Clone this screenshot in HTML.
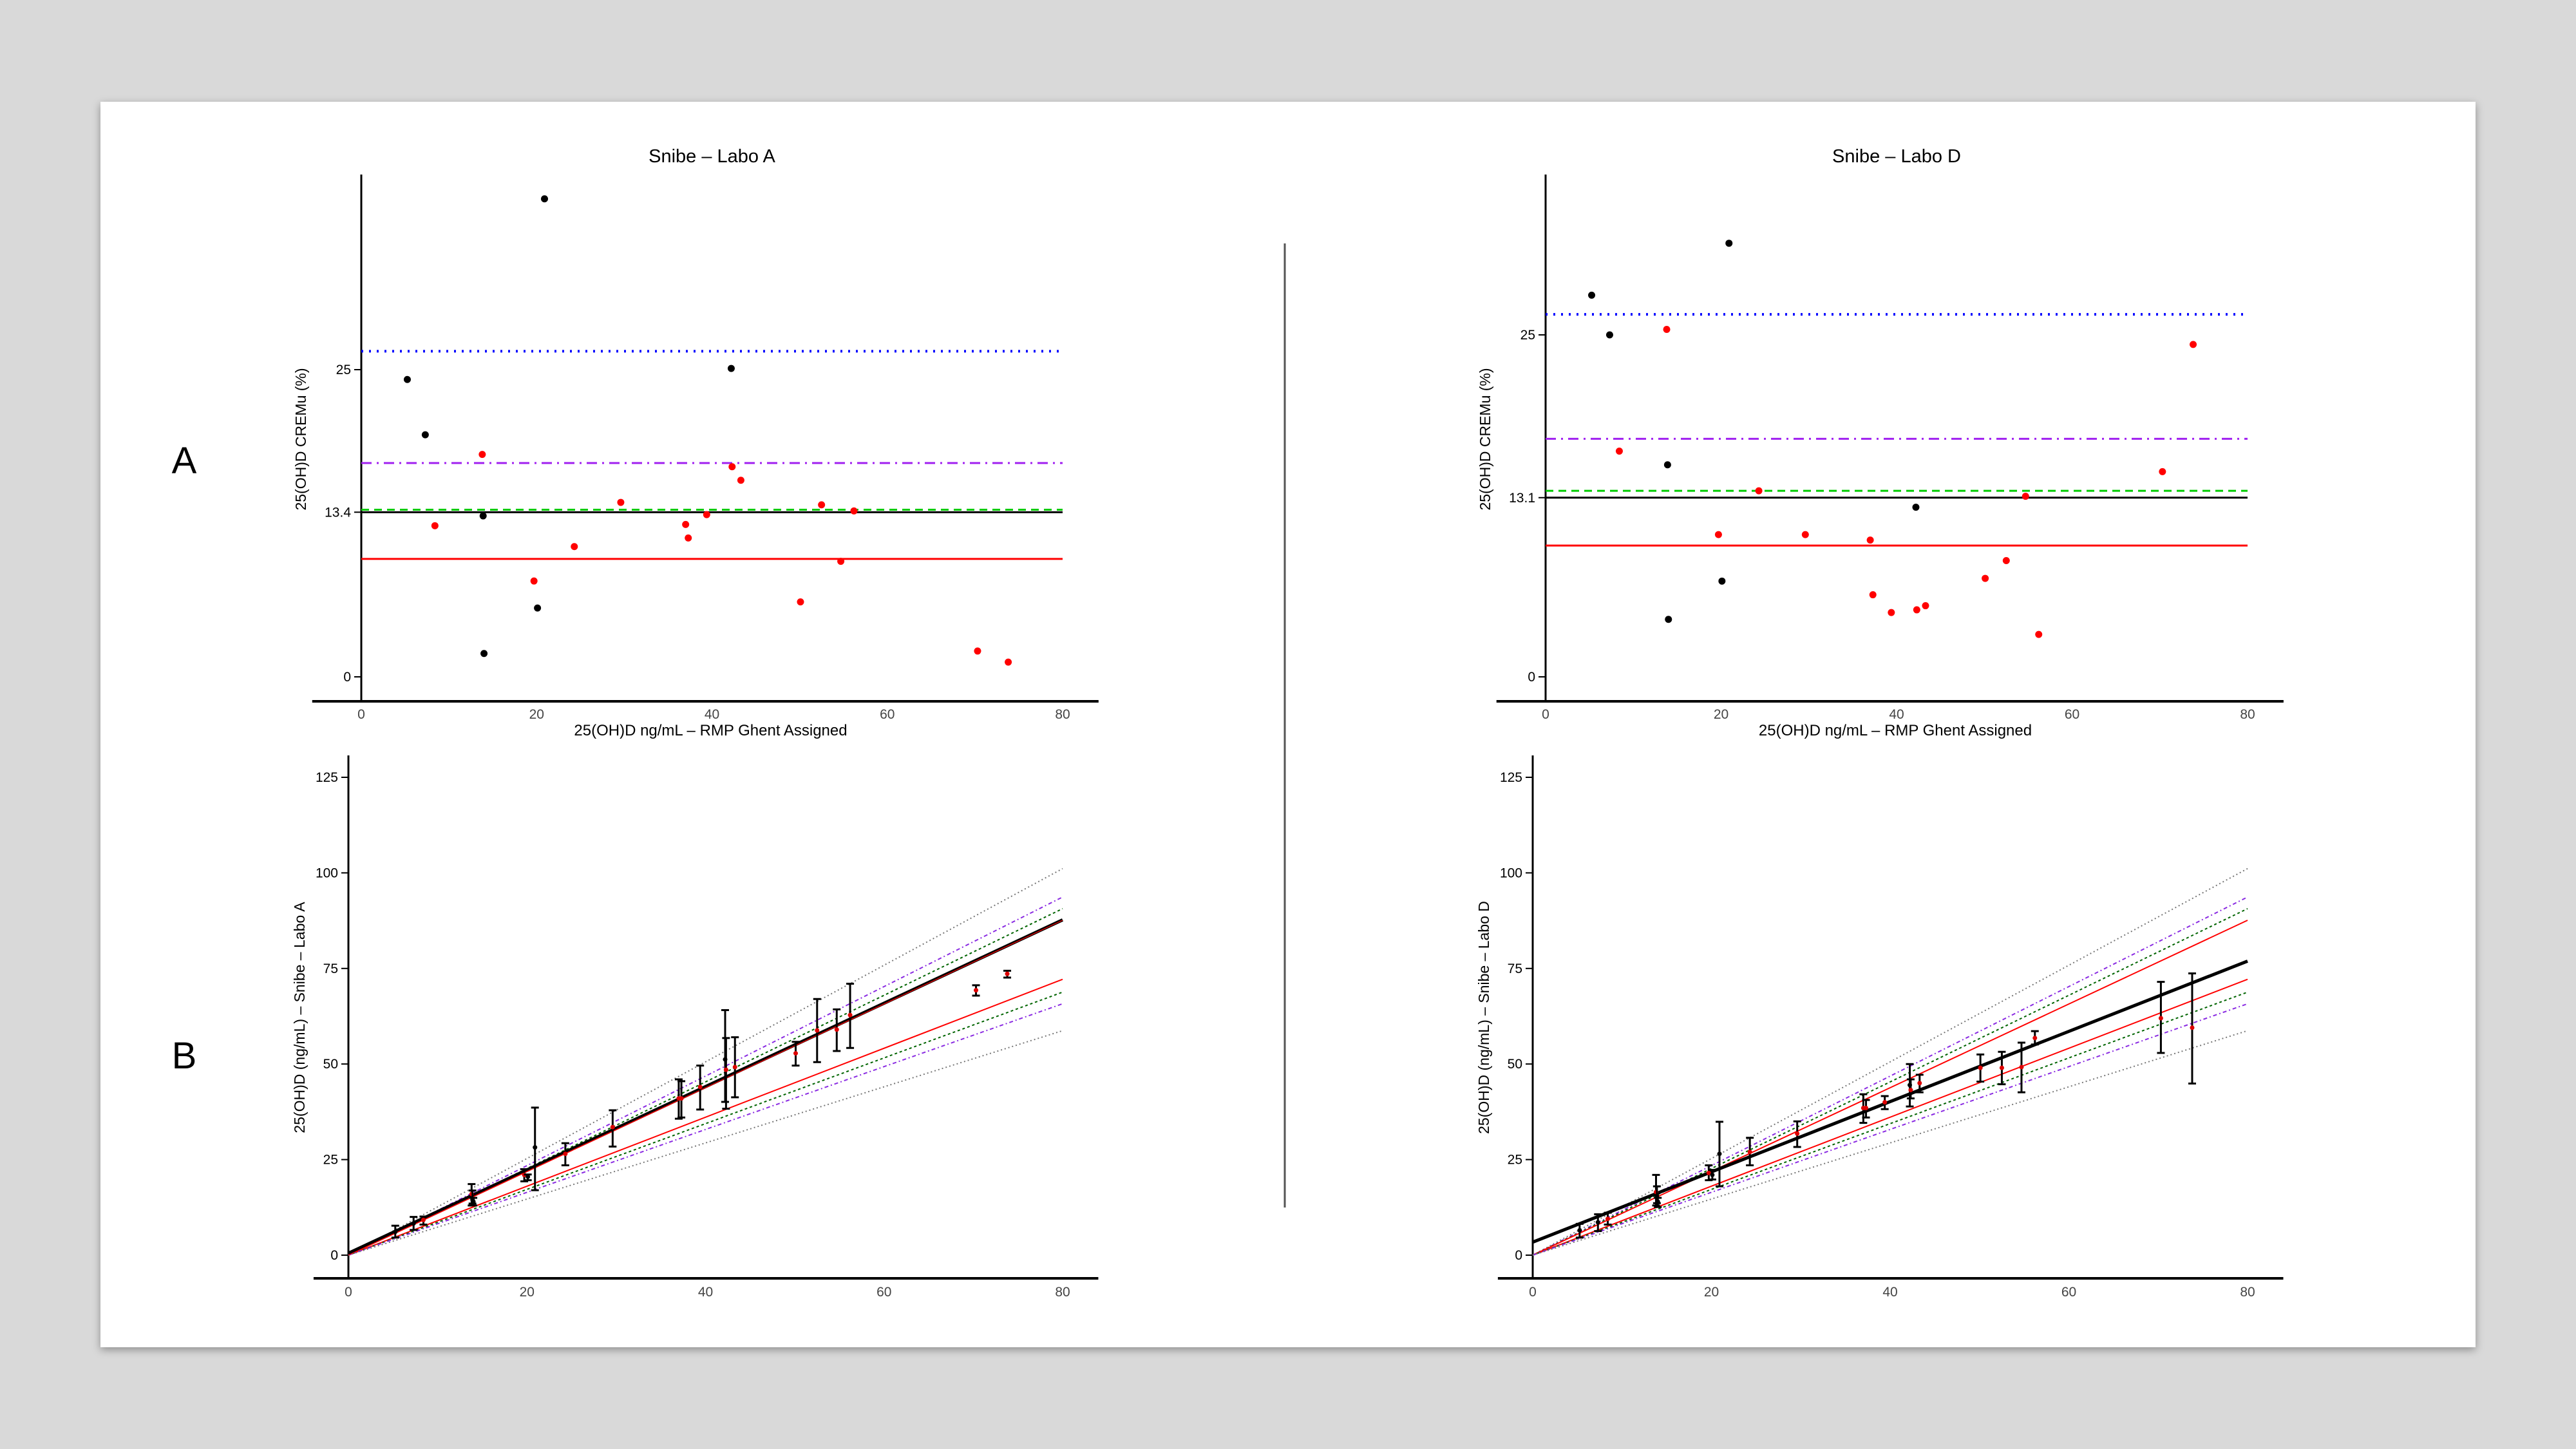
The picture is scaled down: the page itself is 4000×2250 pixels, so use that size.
<!DOCTYPE html>
<html><head><meta charset="utf-8">
<style>
html,body{margin:0;padding:0;background:#d9d9d9;}
#wrap{position:relative;width:4000px;height:2250px;overflow:hidden;background:#d9d9d9;}
#panel{position:absolute;left:156px;top:158px;width:3688px;height:1934px;background:#fff;box-shadow:0 4px 12px rgba(0,0,0,0.35);}
svg{position:absolute;left:0;top:0;}
text{font-family:"Liberation Sans",sans-serif;}
</style></head>
<body>
<div id="wrap">
<div id="panel"></div>
<svg id="chart" width="4000" height="2250"></svg>
</div>
<script>
// ---- data ----
const sampleX = [5.25,7.3,8.4,13.8,13.9,14.0,19.7,20.1,20.9,24.3,29.6,37.0,37.3,39.4,42.2,42.3,43.3,50.1,52.5,54.7,56.2,70.3,73.8];
const sampleColor = ['b','b','r','r','b','b','r','b','b','r','r','r','r','r','b','r','r','r','r','r','r','r','r'];
const cremuA = [24.2,19.7,12.3,18.1,13.1,1.9,7.8,5.6,38.9,10.6,14.2,12.4,11.3,13.2,25.1,17.1,16.0,6.1,14.0,9.4,13.5,2.1,1.2];
const cremuD = [27.9,25.0,16.5,25.4,15.5,4.2,10.4,7.0,31.7,13.6,10.4,10.0,6.0,4.7,12.4,4.9,5.2,7.2,8.5,13.2,3.1,15.0,24.3];
const refLevelsA = [26.5,17.4,13.6,13.4,9.6];
const refLevelsD = [26.5,17.4,13.6,13.1,9.6];
const cremuTicksA = [0,13.4,25];
const cremuTicksD = [0,13.1,25];
const meanA = [6.1,8.3,9.2,16,14.5,14,21,20.5,28.2,26.5,33.5,41,41,44,51.2,48.5,49.2,52.8,58.8,59,62.8,69.3,73.6];
const loA = [4.6,6.6,8.0,13.0,13.5,13,19.3,19.6,17.0,23.5,28.4,35.7,36.0,38.1,40.1,38.3,41.3,49.6,50.5,53.4,54.2,67.9,72.6];
const hiA = [7.7,10.0,10.1,18.6,16.9,15,22.5,21.1,38.6,29.3,37.9,46.0,45.5,49.6,64.1,56.8,57.0,55.8,67.0,64.3,71.0,70.6,74.4];
const meanD = [6.5,8.6,9.5,16.5,15.5,14,21.5,21,26.5,27,31.8,38.5,38.5,40,44.5,43.2,45,49,49,49.2,56.8,62,59.5];
const loD = [4.6,6.3,8.0,13.0,13.6,12.6,19.6,19.8,18.0,23.5,28.3,34.6,36.0,38.2,38.9,41.0,42.6,45.4,44.7,42.6,55.1,52.9,44.9];
const hiD = [8.2,10.7,11.1,21.0,18.0,15,23.5,22.3,34.9,30.7,35.0,42.1,40.6,41.6,50.0,46.0,47.2,52.5,53.2,55.6,58.6,71.5,73.7];
const limitSlopes = [1.264,1.171,1.133,1.095,0.902,0.86,0.822,0.734];
const regA = [0.5,1.09];
const regD = [3.4,0.919];
const xTicks = [0,20,40,60,80];
const concTicks = [0,25,50,75,100,125];

// ---- helpers ----
const NS='http://www.w3.org/2000/svg';
const svg=document.getElementById('chart');
function el(tag,attrs,parent){const e=document.createElementNS(NS,tag);for(const k in attrs)e.setAttribute(k,attrs[k]);(parent||svg).appendChild(e);return e;}
function txt(s,attrs,parent){const t=el('text',attrs,parent);t.textContent=s;return t;}

const refStyles=[
 {stroke:'#0000ff',dash:'3 9',w:4,name:'upper-limit-dotted'},
 {stroke:'#a020f0',dash:'16 8 3 8',w:3,name:'desirable-limit-dashdot'},
 {stroke:'#00cc00',dash:'12 8',w:3,name:'mean-dashed'},
 {stroke:'#000000',dash:'',w:3,name:'median-line'},
 {stroke:'#ff0000',dash:'',w:3,name:'optimal-limit-line'}];
const limStyles=[
 {stroke:'#777',dash:'2 4',name:'upper-gray-limit'},
 {stroke:'#8a2be2',dash:'6 4 2 4',name:'upper-purple-limit'},
 {stroke:'#006400',dash:'4 4',name:'upper-green-limit'},
 {stroke:'#ff0000',dash:'',name:'upper-red-limit'},
 {stroke:'#ff0000',dash:'',name:'lower-red-limit'},
 {stroke:'#006400',dash:'4 4',name:'lower-green-limit'},
 {stroke:'#8a2be2',dash:'6 4 2 4',name:'lower-purple-limit'},
 {stroke:'#777',dash:'2 4',name:'lower-gray-limit'}];

function cremuPlot(o){
 const g=el('g',{});
 
 
 const sx=v=>o.x0+(o.x80-o.x0)*v/80;
 const sy=v=>o.y0-v*o.ppu;
 // title
 const t=txt(o.title,{x:(o.x0+o.x80)/2,y:252,'text-anchor':'middle','font-size':29,fill:'#000'},g);
 
 // axes
 const ya=el('line',{x1:o.x0,y1:271,x2:o.x0,y2:1089,stroke:'#000','stroke-width':3},g);
 
 const xa=el('line',{x1:sx(-5.6),y1:1089,x2:sx(84.1),y2:1089,stroke:'#000','stroke-width':4},g);
 
 xTicks.forEach(v=>{const tl=txt(String(v),{x:sx(v),y:1116,'text-anchor':'middle','font-size':21,fill:'#444'},g);
  });
 o.ticks.forEach(v=>{const tk=el('line',{x1:o.x0-11,y1:sy(v),x2:o.x0,y2:sy(v),stroke:'#000','stroke-width':2},g);
  
  const tl=txt(String(v),{x:o.x0-16,y:sy(v)+7,'text-anchor':'end','font-size':21,fill:'#000'},g);
  });
 const xt=txt('25(OH)D  ng/mL – RMP Ghent Assigned',{x:(o.x0+o.x80)/2-2,y:1142,'text-anchor':'middle','font-size':24,fill:'#000','xml:space':'preserve'},g);
 
 const yt=txt('25(OH)D  CREMu (%)',{x:0,y:0,'text-anchor':'middle','font-size':23,fill:'#000',transform:`translate(${o.x0-86},682) rotate(-90)`,'xml:space':'preserve'},g);
 
 o.levels.forEach((v,i)=>{const s=refStyles[i];
  const ln=el('line',{x1:sx(0),y1:sy(v),x2:sx(80),y2:sy(v),stroke:s.stroke,'stroke-width':s.w,'stroke-dasharray':s.dash},g);
  });
 sampleX.forEach((x,i)=>{const c=el('circle',{cx:sx(x),cy:sy(o.vals[i]),r:5.5,fill:sampleColor[i]==='b'?'#000':'#ff0000'},g);
  });
}

function concPlot(o){
 const g=el('g',{});
 
 
 const ppx=(o.x80-o.x0)/80, ppy=(1949-1207)/125;
 const sx=v=>o.x0+v*ppx;
 const sy=v=>1949-v*ppy;
 const ya=el('line',{x1:o.x0,y1:1173,x2:o.x0,y2:1985,stroke:'#000','stroke-width':3},g);
 
 const xa=el('line',{x1:sx(-3.9),y1:1985,x2:sx(84),y2:1985,stroke:'#000','stroke-width':4},g);
 
 xTicks.forEach(v=>{const tl=txt(String(v),{x:sx(v),y:2013,'text-anchor':'middle','font-size':21,fill:'#444'},g);
  });
 concTicks.forEach(v=>{const tk=el('line',{x1:o.x0-11,y1:sy(v),x2:o.x0,y2:sy(v),stroke:'#000','stroke-width':2},g);
  
  const tl=txt(String(v),{x:o.x0-16,y:sy(v)+7,'text-anchor':'end','font-size':21,fill:'#000'},g);
  });
 const yt=txt(o.ytitle,{x:0,y:0,'text-anchor':'middle','font-size':23,fill:'#000',transform:`translate(${o.x0-68},1580) rotate(-90)`},g);
 
 limitSlopes.forEach((s,i)=>{const st=limStyles[i];
  const ln=el('line',{x1:sx(0),y1:sy(0),x2:sx(80),y2:sy(80*s),stroke:st.stroke,'stroke-width':2,'stroke-dasharray':st.dash},g);
  });
 const rg=el('line',{x1:sx(0),y1:sy(o.reg[0]),x2:sx(80),y2:sy(o.reg[0]+80*o.reg[1]),stroke:'#000','stroke-width':5},g);
 
 if(o.overlayRed){const r2=el('line',{x1:sx(0),y1:sy(0),x2:sx(80),y2:sy(80*limitSlopes[3]),stroke:'#ff0000','stroke-width':1.2},g);
  }
 sampleX.forEach((x,i)=>{const X=sx(x);
  const b=el('path',{d:`M${X},${sy(o.lo[i])}V${sy(o.hi[i])}M${X-6},${sy(o.lo[i])}H${X+6}M${X-6},${sy(o.hi[i])}H${X+6}`,stroke:'#000','stroke-width':3,fill:'none'},g);
  
  const c=el('circle',{cx:X,cy:sy(o.mean[i]),r:3.5,fill:sampleColor[i]==='b'?'#000':'#dd0000'},g);
  });
}

cremuPlot({name:'cremu-plot-labo-a',title:'Snibe – Labo A',x0:561,x80:1650,y0:1051,ppu:19.08,ticks:cremuTicksA,levels:refLevelsA,vals:cremuA});
cremuPlot({name:'cremu-plot-labo-d',title:'Snibe – Labo D',x0:2400,x80:3490,y0:1051,ppu:21.24,ticks:cremuTicksD,levels:refLevelsD,vals:cremuD});
concPlot({name:'concentration-plot-labo-a',x0:541,x80:1650,ytitle:'25(OH)D (ng/mL) – Snibe – Labo A',reg:regA,mean:meanA,lo:loA,hi:hiA,overlayRed:true});
concPlot({name:'concentration-plot-labo-d',x0:2380,x80:3490,ytitle:'25(OH)D (ng/mL) – Snibe – Labo D',reg:regD,mean:meanD,lo:loD,hi:hiD,overlayRed:false});

const sep=el('line',{x1:1995,y1:378,x2:1995,y2:1875,stroke:'#555','stroke-width':3});


const la=txt('A',{x:286,y:735,'text-anchor':'middle','font-size':58,fill:'#000'});


const lb=txt('B',{x:286,y:1659,'text-anchor':'middle','font-size':58,fill:'#000'});


</script>
</body></html>
